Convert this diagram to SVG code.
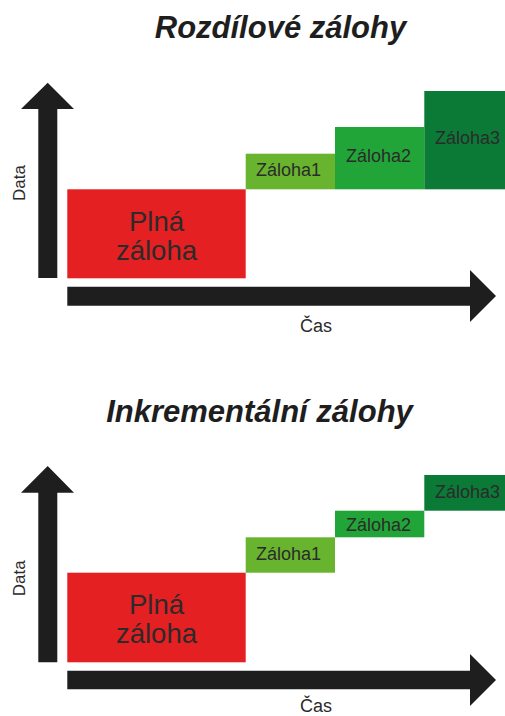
<svg xmlns="http://www.w3.org/2000/svg" width="505" height="716" viewBox="0 0 505 716">
<defs>
<style>
.title{font-family:"Liberation Sans",Arial,sans-serif;font-weight:bold;font-style:italic;font-size:31px;fill:#1e1e1e;text-anchor:middle}
.lbl{font-family:"Liberation Sans",Arial,sans-serif;fill:#2b2b2b;text-anchor:middle}
.axis{fill:#1e1e1e}
.full{fill:#e42022}
.z1{fill:#68b42e}
.z2{fill:#22a538}
.z3{fill:#0b7a37}
</style>
</defs>
<rect width="505" height="716" fill="#ffffff"/>

<!-- Diagram 1: Rozdílové zálohy -->
<text class="title" x="280.5" y="37.5">Rozdílové zálohy</text>
<g id="d1-connectors">
  <path class="axis" d="M38.3,278 L38.3,109 L21,109 L47.7,82.7 L74,109 L57.3,109 L57.3,278 Z"/>
  <path class="axis" d="M67.3,286.7 L470,286.7 L470,270 L496,296 L470,322 L470,305.7 L67.3,305.7 Z"/>
</g>
<text class="lbl" font-size="17" transform="translate(24.5,183) rotate(-90)">Data</text>
<text class="lbl" font-size="18" x="316" y="332">Čas</text>
<g id="d1-full">
  <rect class="full" x="67.3" y="189.3" width="178.4" height="89"/>
  <text class="lbl" font-size="27.5" x="156.5" y="231">Plná</text>
  <text class="lbl" font-size="27.5" x="156.5" y="260">záloha</text>
</g>
<g id="d1-z1">
  <rect class="z1" x="245.7" y="153.7" width="89.3" height="35.6"/>
  <text class="lbl" font-size="18" x="288.5" y="176">Záloha1</text>
</g>
<g id="d1-z2">
  <rect class="z2" x="335" y="127" width="89.3" height="62.3"/>
  <text class="lbl" font-size="18" x="378.5" y="162.3">Záloha2</text>
</g>
<g id="d1-z3">
  <rect class="z3" x="424.3" y="91" width="80.7" height="98.3"/>
  <text class="lbl" font-size="18" x="467.5" y="144.3">Záloha3</text>
</g>

<!-- Diagram 2: Inkrementální zálohy -->
<text class="title" x="259.5" y="421.7">Inkrementální zálohy</text>
<g id="d2-connectors">
  <path class="axis" d="M38.3,662.3 L38.3,492.7 L21,492.7 L47.7,466 L74,492.7 L57.3,492.7 L57.3,662.3 Z"/>
  <path class="axis" d="M67.3,670.7 L470,670.7 L470,654 L496,680 L470,706 L470,689.3 L67.3,689.3 Z"/>
</g>
<text class="lbl" font-size="17" transform="translate(24.5,578.3) rotate(-90)">Data</text>
<text class="lbl" font-size="18" x="316" y="712">Čas</text>
<g id="d2-full">
  <rect class="full" x="67.3" y="572.7" width="178.4" height="89.6"/>
  <text class="lbl" font-size="27.5" x="156.5" y="614.3">Plná</text>
  <text class="lbl" font-size="27.5" x="156.5" y="643.3">záloha</text>
</g>
<g id="d2-z1">
  <rect class="z1" x="245.7" y="537.3" width="89.3" height="35.4"/>
  <text class="lbl" font-size="18" x="288.5" y="560">Záloha1</text>
</g>
<g id="d2-z2">
  <rect class="z2" x="335" y="510.7" width="89.3" height="26.6"/>
  <text class="lbl" font-size="18" x="378.5" y="530.7">Záloha2</text>
</g>
<g id="d2-z3">
  <rect class="z3" x="424.3" y="475" width="80.7" height="35.7"/>
  <text class="lbl" font-size="18" x="467.5" y="498.3">Záloha3</text>
</g>
</svg>
